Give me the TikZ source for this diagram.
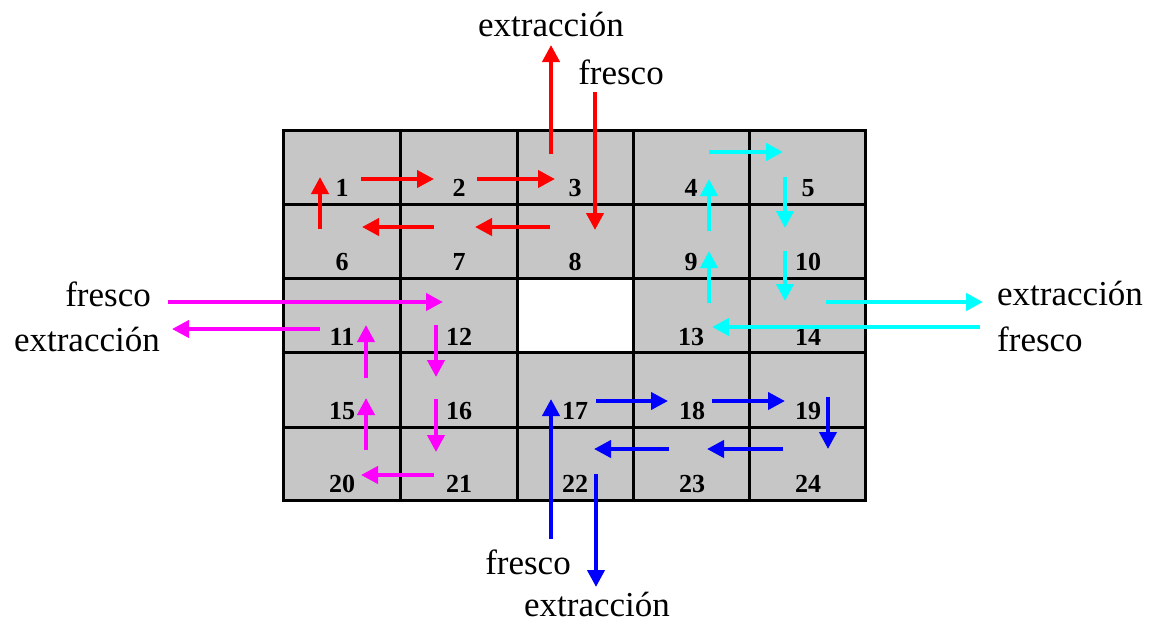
\documentclass[tikz,border=0pt]{standalone}
\usepackage{fontspec}
\setmainfont{Liberation Serif}
\usetikzlibrary{arrows.meta}
\definecolor{cellgray}{RGB}{198,198,198}
\definecolor{flowred}{RGB}{255,0,0}
\definecolor{flowcyan}{RGB}{0,255,255}
\definecolor{flowmag}{RGB}{255,0,255}
\definecolor{flowblue}{RGB}{0,0,255}
\tikzset{
  flow/.style={line width=4pt, -{Triangle[length=17pt,width=17pt]}},
  lbl/.style={font=\fontsize{35}{40}\selectfont, inner sep=0pt},
  num/.style={font=\fontsize{26}{30}\selectfont\bfseries, inner sep=0pt, anchor=base},
  gridline/.style={line width=3pt, line cap=rect},
}
\begin{document}
\begin{tikzpicture}[x=1pt,y=-1pt]
\useasboundingbox (0,0) rectangle (1152,622);

% floor plan: grey cells, white centre cell, black grid
\fill[cellgray] (283,130) rectangle (865,500);
\fill[white] (517,278) rectangle (633,352);
\foreach \gx in {283,400,517,633,749,865}
  \draw[gridline] (\gx,130) -- (\gx,500);
\foreach \gy in {130,204,278,352,427,500}
  \draw[gridline] (283,\gy) -- (865,\gy);

% cell numbers
\foreach \n/\cx/\by in {
  1/342/196, 2/459/196, 3/575/196, 4/691/196, 5/808/196,
  6/342/270, 7/459/270, 8/575/270, 9/691/270, 10/808/270,
  11/342/345, 12/459/345, 13/691/345, 14/808/345,
  15/342/419, 16/459/419, 17/575/419, 18/692/419, 19/808/419,
  20/342/492, 21/459/492, 22/575/492, 23/692/492, 24/808/492}
  \node[num] (n\n) at (\cx,\by) {\n};

% supply / exhaust labels
\node[lbl, anchor=base] (topext) at (551,36) {extracción};
\node[lbl, anchor=base] (topfre) at (621,84) {fresco};
\node[lbl, anchor=base east] (leftfre) at (151,306) {fresco};
\node[lbl, anchor=base east] (leftext) at (160,351) {extracción};
\node[lbl, anchor=base west] (rightext) at (997,305) {extracción};
\node[lbl, anchor=base west] (rightfre) at (997,351) {fresco};
\node[lbl, anchor=base] (botfre) at (528,574) {fresco};
\node[lbl, anchor=base] (botext) at (597,616) {extracción};

% red circuit (cells 1-3, 6-8)
\begin{scope}[flowred]
\draw[flow] (361,179) -- (434,179);
\draw[flow] (477,179) -- (555,179);
\draw[flow] (551,154) -- (551,45);
\draw[flow] (595,92) -- (595,230);
\draw[flow] (550,227) -- (475,227);
\draw[flow] (434,227) -- (362,227);
\draw[flow] (320,229) -- (320,177);
\end{scope}

% cyan circuit (cells 4, 5, 9, 10, 13, 14)
\begin{scope}[flowcyan]
\draw[flow] (709,152) -- (783,152);
\draw[flow] (785,177) -- (785,228);
\draw[flow] (785,251) -- (785,301);
\draw[flow] (709,231) -- (709,179);
\draw[flow] (709,303) -- (709,251);
\draw[flow] (826,302) -- (983,302);
\draw[flow] (980,327) -- (712,327);
\end{scope}

% magenta circuit (cells 11, 12, 15, 16, 20, 21)
\begin{scope}[flowmag]
\draw[flow] (168,302) -- (443,302);
\draw[flow] (320,329) -- (172,329);
\draw[flow] (436,325) -- (436,377);
\draw[flow] (436,399) -- (436,452);
\draw[flow] (434,475) -- (361,475);
\draw[flow] (366,450) -- (366,398);
\draw[flow] (366,378) -- (366,325);
\end{scope}

% blue circuit (cells 17-19, 22-24)
\begin{scope}[flowblue]
\draw[flow] (551,539) -- (551,399);
\draw[flow] (596,401) -- (668,401);
\draw[flow] (712,401) -- (785,401);
\draw[flow] (828,397) -- (828,449);
\draw[flow] (783,449) -- (707,449);
\draw[flow] (669,449) -- (594,449);
\draw[flow] (596,474) -- (596,587);
\end{scope}
\end{tikzpicture}
\end{document}
